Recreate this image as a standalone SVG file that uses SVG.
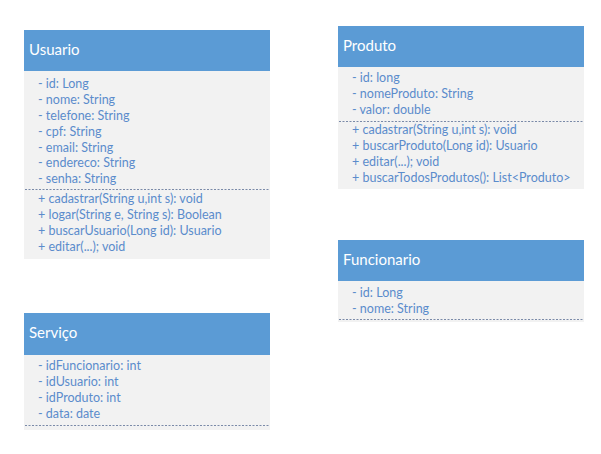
<svg xmlns="http://www.w3.org/2000/svg" width="601" height="454" viewBox="0 0 601 454">
<style>
.hd{fill:#5b9bd5}
.bd{fill:#f2f2f2}
.ttl{font-family:Lato,"Open Sans","Liberation Sans",sans-serif;font-size:15px;fill:#ffffff}
.t{font-family:Lato,"Open Sans","Liberation Sans",sans-serif;font-size:12.5px;fill:#5b8ccc}
.sep{stroke:#7a8aa8;stroke-width:1;stroke-dasharray:2,1.5}
</style>
<rect width="601" height="454" fill="#ffffff"/>
<g id="usuario">
<rect class="bd" x="24" y="71" width="246" height="188"/>
<rect class="hd" x="24" y="30" width="246" height="41"/>
<text class="ttl" x="29" y="55">Usuario</text>
<text class="t" x="38" y="88">- id: Long</text>
<text class="t" x="38" y="104">- nome: String</text>
<text class="t" x="38" y="120">- telefone: String</text>
<text class="t" x="38" y="136">- cpf: String</text>
<text class="t" x="38" y="152">- email: String</text>
<text class="t" x="38" y="167">- endereco: String</text>
<text class="t" x="38" y="183">- senha: String</text>
<line class="sep" x1="25" y1="189.5" x2="269" y2="189.5"/>
<text class="t" x="38" y="203">+ cadastrar(String u,int s): void</text>
<text class="t" x="38" y="219">+ logar(String e, String s): Boolean</text>
<text class="t" x="38" y="235">+ buscarUsuario(Long id): Usuario</text>
<text class="t" x="38" y="251">+ editar(...); void</text>
</g>
<g id="produto">
<rect class="bd" x="338" y="67" width="246" height="122"/>
<rect class="hd" x="338" y="26" width="246" height="41"/>
<text class="ttl" x="343" y="51">Produto</text>
<text class="t" x="352" y="82">- id: long</text>
<text class="t" x="352" y="98">- nomeProduto: String</text>
<text class="t" x="352" y="114">- valor: double</text>
<line class="sep" x1="339" y1="121.5" x2="583" y2="121.5"/>
<text class="t" x="352" y="134">+ cadastrar(String u,int s): void</text>
<text class="t" x="352" y="150">+ buscarProduto(Long id): Usuario</text>
<text class="t" x="352" y="166">+ editar(...); void</text>
<text class="t" x="352" y="182">+ buscarTodosProdutos(): List&lt;Produto&gt;</text>
</g>
<g id="servico">
<rect class="bd" x="24" y="355" width="246" height="75"/>
<rect class="hd" x="24" y="313" width="246" height="42"/>
<text class="ttl" x="29" y="338">Serviço</text>
<text class="t" x="38" y="370">- idFuncionario: int</text>
<text class="t" x="38" y="386">- idUsuario: int</text>
<text class="t" x="38" y="402">- idProduto: int</text>
<text class="t" x="38" y="418">- data: date</text>
<line class="sep" x1="25" y1="425.5" x2="269" y2="425.5"/>
</g>
<g id="funcionario">
<rect class="bd" x="338" y="281" width="246" height="41"/>
<rect class="hd" x="338" y="240" width="246" height="41"/>
<text class="ttl" x="343" y="265">Funcionario</text>
<text class="t" x="352" y="297">- id: Long</text>
<text class="t" x="352" y="313">- nome: String</text>
<line class="sep" x1="339" y1="319.5" x2="583" y2="319.5"/>
</g>
<g id="connectors"/>
</svg>
